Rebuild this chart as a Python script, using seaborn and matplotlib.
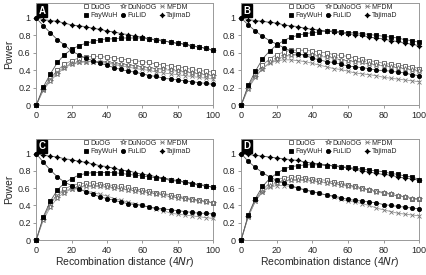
import seaborn as sns
import matplotlib.pyplot as plt
import pandas as pd

# recombination distance (4Nr), points every 4 units
dist = list(range(0, 101, 4))

# Panel A
a_duog = [0, 0.19, 0.31, 0.40, 0.47, 0.51, 0.54, 0.55, 0.56, 0.56, 0.55, 0.54, 0.53, 0.52, 0.51, 0.50, 0.49, 0.47, 0.46, 0.45, 0.44, 0.43, 0.41, 0.40, 0.39, 0.38]
a_dunoog = [0, 0.17, 0.28, 0.36, 0.43, 0.47, 0.49, 0.50, 0.50, 0.50, 0.49, 0.48, 0.47, 0.46, 0.45, 0.44, 0.43, 0.42, 0.41, 0.40, 0.39, 0.38, 0.37, 0.36, 0.35, 0.34]
a_mfdm = [0, 0.18, 0.30, 0.38, 0.44, 0.48, 0.49, 0.50, 0.50, 0.49, 0.48, 0.47, 0.45, 0.44, 0.42, 0.41, 0.40, 0.38, 0.37, 0.36, 0.35, 0.34, 0.33, 0.32, 0.31, 0.30]
a_faywuh = [0, 0.21, 0.36, 0.49, 0.58, 0.64, 0.68, 0.71, 0.73, 0.75, 0.76, 0.76, 0.77, 0.77, 0.77, 0.77, 0.76, 0.75, 0.74, 0.72, 0.71, 0.70, 0.68, 0.67, 0.65, 0.63]
a_fulid = [1, 0.91, 0.83, 0.75, 0.69, 0.62, 0.58, 0.54, 0.51, 0.48, 0.46, 0.43, 0.41, 0.39, 0.38, 0.36, 0.34, 0.33, 0.31, 0.30, 0.29, 0.28, 0.27, 0.26, 0.25, 0.24]
a_tajimad = [1, 0.98, 0.97, 0.96, 0.94, 0.92, 0.91, 0.90, 0.88, 0.87, 0.85, 0.84, 0.82, 0.81, 0.79, 0.78, 0.76, 0.75, 0.74, 0.72, 0.71, 0.70, 0.68, 0.67, 0.65, 0.63]

# Panel B
b_duog = [0, 0.22, 0.35, 0.46, 0.53, 0.58, 0.61, 0.63, 0.63, 0.63, 0.62, 0.61, 0.60, 0.58, 0.57, 0.56, 0.54, 0.53, 0.51, 0.50, 0.48, 0.47, 0.46, 0.45, 0.44, 0.42]
b_dunoog = [0, 0.19, 0.32, 0.42, 0.49, 0.53, 0.56, 0.57, 0.58, 0.58, 0.57, 0.56, 0.55, 0.54, 0.52, 0.51, 0.50, 0.49, 0.47, 0.46, 0.45, 0.44, 0.43, 0.42, 0.40, 0.39]
b_mfdm = [0, 0.20, 0.33, 0.42, 0.48, 0.51, 0.52, 0.52, 0.51, 0.50, 0.48, 0.46, 0.44, 0.42, 0.41, 0.39, 0.37, 0.36, 0.35, 0.34, 0.32, 0.31, 0.30, 0.29, 0.28, 0.27]
b_faywuh = [0, 0.23, 0.39, 0.53, 0.62, 0.69, 0.74, 0.78, 0.80, 0.82, 0.83, 0.84, 0.85, 0.85, 0.84, 0.83, 0.83, 0.82, 0.81, 0.80, 0.79, 0.78, 0.77, 0.75, 0.74, 0.72]
b_fulid = [1, 0.92, 0.85, 0.79, 0.74, 0.70, 0.66, 0.62, 0.59, 0.57, 0.54, 0.52, 0.50, 0.49, 0.47, 0.45, 0.44, 0.43, 0.42, 0.40, 0.40, 0.39, 0.38, 0.37, 0.35, 0.34]
b_tajimad = [1, 0.98, 0.97, 0.96, 0.95, 0.94, 0.92, 0.91, 0.90, 0.88, 0.87, 0.86, 0.85, 0.84, 0.83, 0.82, 0.81, 0.80, 0.78, 0.77, 0.76, 0.74, 0.73, 0.71, 0.70, 0.68]

# Panel C
c_duog = [0, 0.25, 0.42, 0.53, 0.59, 0.63, 0.65, 0.66, 0.66, 0.65, 0.64, 0.63, 0.62, 0.61, 0.59, 0.58, 0.57, 0.55, 0.54, 0.52, 0.51, 0.49, 0.48, 0.46, 0.45, 0.43]
c_dunoog = [0, 0.23, 0.38, 0.49, 0.55, 0.59, 0.61, 0.62, 0.62, 0.62, 0.61, 0.60, 0.59, 0.58, 0.57, 0.56, 0.55, 0.53, 0.52, 0.50, 0.49, 0.48, 0.46, 0.45, 0.44, 0.43]
c_mfdm = [0, 0.25, 0.42, 0.52, 0.57, 0.59, 0.59, 0.57, 0.55, 0.53, 0.51, 0.48, 0.46, 0.44, 0.42, 0.40, 0.38, 0.36, 0.34, 0.31, 0.30, 0.29, 0.28, 0.27, 0.26, 0.25]
c_faywuh = [0, 0.27, 0.45, 0.58, 0.66, 0.71, 0.75, 0.77, 0.78, 0.78, 0.78, 0.78, 0.77, 0.76, 0.75, 0.74, 0.73, 0.72, 0.71, 0.69, 0.68, 0.67, 0.65, 0.64, 0.63, 0.61]
c_fulid = [1, 0.90, 0.81, 0.73, 0.67, 0.63, 0.59, 0.56, 0.53, 0.50, 0.48, 0.46, 0.44, 0.42, 0.41, 0.40, 0.38, 0.37, 0.36, 0.35, 0.34, 0.33, 0.32, 0.31, 0.31, 0.30]
c_tajimad = [1, 0.98, 0.97, 0.96, 0.94, 0.93, 0.91, 0.90, 0.88, 0.86, 0.85, 0.83, 0.81, 0.80, 0.78, 0.76, 0.75, 0.73, 0.72, 0.70, 0.69, 0.67, 0.66, 0.64, 0.63, 0.61]

# Panel D
d_duog = [0, 0.28, 0.47, 0.58, 0.66, 0.70, 0.72, 0.73, 0.73, 0.72, 0.71, 0.70, 0.69, 0.67, 0.66, 0.64, 0.62, 0.60, 0.58, 0.57, 0.55, 0.53, 0.51, 0.50, 0.48, 0.47]
d_dunoog = [0, 0.27, 0.45, 0.56, 0.63, 0.66, 0.68, 0.69, 0.69, 0.69, 0.68, 0.67, 0.66, 0.65, 0.64, 0.62, 0.61, 0.59, 0.58, 0.56, 0.54, 0.53, 0.51, 0.50, 0.48, 0.47]
d_mfdm = [0, 0.27, 0.45, 0.56, 0.61, 0.63, 0.63, 0.62, 0.60, 0.58, 0.56, 0.54, 0.52, 0.50, 0.47, 0.45, 0.44, 0.42, 0.40, 0.37, 0.35, 0.33, 0.31, 0.30, 0.29, 0.28]
d_faywuh = [0, 0.29, 0.48, 0.62, 0.71, 0.77, 0.82, 0.85, 0.86, 0.87, 0.87, 0.87, 0.86, 0.86, 0.85, 0.84, 0.83, 0.82, 0.81, 0.80, 0.79, 0.77, 0.76, 0.74, 0.73, 0.70]
d_fulid = [1, 0.91, 0.84, 0.78, 0.73, 0.69, 0.66, 0.63, 0.60, 0.58, 0.56, 0.54, 0.52, 0.51, 0.49, 0.47, 0.46, 0.45, 0.44, 0.43, 0.41, 0.40, 0.39, 0.38, 0.37, 0.36]
d_tajimad = [1, 0.99, 0.98, 0.97, 0.96, 0.95, 0.94, 0.93, 0.92, 0.90, 0.89, 0.88, 0.87, 0.86, 0.85, 0.83, 0.82, 0.80, 0.79, 0.77, 0.76, 0.75, 0.73, 0.72, 0.71, 0.69]

series_names = ['DuOG', 'DuNoOG', 'MFDM', 'FayWuH', 'FuLiD', 'TajimaD']
panels = {
    'A': [a_duog, a_dunoog, a_mfdm, a_faywuh, a_fulid, a_tajimad],
    'B': [b_duog, b_dunoog, b_mfdm, b_faywuh, b_fulid, b_tajimad],
    'C': [c_duog, c_dunoog, c_mfdm, c_faywuh, c_fulid, c_tajimad],
    'D': [d_duog, d_dunoog, d_mfdm, d_faywuh, d_fulid, d_tajimad],
}

# marker styles for each test
styles = {
    'DuOG': dict(marker='s', mfc='white', mec='#555555', ms=3.2, color='#888888'),
    'DuNoOG': dict(marker='*', mfc='white', mec='#666666', ms=4.0, color='#999999'),
    'MFDM': dict(marker='x', mfc='none', mec='#777777', ms=2.6, color='#999999'),
    'FayWuH': dict(marker='s', mfc='black', mec='black', ms=2.9, color='#555555'),
    'FuLiD': dict(marker='o', mfc='black', mec='black', ms=3.0, color='#555555'),
    'TajimaD': dict(marker=(4, 1, 0), mfc='black', mec='black', ms=3.6, color='#555555'),
}

sns.set_style('ticks')
plt.rcParams['font.family'] = ['Liberation Sans', 'DejaVu Sans']

fig = plt.figure(figsize=(4.26, 2.75), dpi=100)
positions = {
    'A': [0.085, 0.617, 0.415, 0.372],
    'B': [0.566, 0.617, 0.418, 0.372],
    'C': [0.085, 0.127, 0.415, 0.368],
    'D': [0.566, 0.127, 0.418, 0.368],
}

for letter, vals in panels.items():
    ax = fig.add_axes(positions[letter])
    for name, y in zip(series_names, vals):
        st = styles[name]
        sns.lineplot(x=dist, y=y, ax=ax, label=name, lw=0.6, color=st['color'],
                     marker=st['marker'], markerfacecolor=st['mfc'],
                     markeredgecolor=st['mec'], markersize=st['ms'],
                     markeredgewidth=0.6, clip_on=False, zorder=3)
    ax.set_xlim(0, 100)
    ax.set_ylim(0, 1.17)
    ax.set_xticks([0, 20, 40, 60, 80, 100])
    ax.set_yticks([0, 0.2, 0.4, 0.6, 0.8, 1.0])
    ax.set_yticklabels(['0', '0.2', '0.4', '0.6', '0.8', '1'])
    ax.tick_params(labelsize=6.5, length=2, width=0.6, color='#888888', pad=2)
    for sp in ax.spines.values():
        sp.set_color('#999999')
        sp.set_linewidth(0.7)
    # row-wise legend order: DuOG DuNoOG MFDM / FayWuH FuLiD TajimaD
    h, l = ax.get_legend_handles_labels()
    order = [0, 3, 1, 4, 2, 5]
    ax.legend([h[i] for i in order], [l[i] for i in order],
              loc='upper left', ncol=3, frameon=False, fontsize=5,
              handlelength=0.6, handletextpad=0.3, columnspacing=0.5,
              labelspacing=0.25, borderaxespad=0.0, bbox_to_anchor=(0.255, 1.02))
    ax.text(0.015, 0.975, letter, transform=ax.transAxes, color='white',
            fontsize=7, fontweight='bold', va='top', ha='left',
            bbox=dict(boxstyle='square,pad=0.15', fc='black', ec='black'))
    ax.set_xlabel('')
    ax.set_ylabel('')
    if letter in ('A', 'C'):
        ax.set_ylabel('Power', fontsize=7.5, labelpad=3)
    if letter in ('C', 'D'):
        ax.set_xlabel('Recombination distance (4$\\it{Nr}$)', fontsize=7.5, labelpad=0)

plt.savefig('out.png', dpi=100)
